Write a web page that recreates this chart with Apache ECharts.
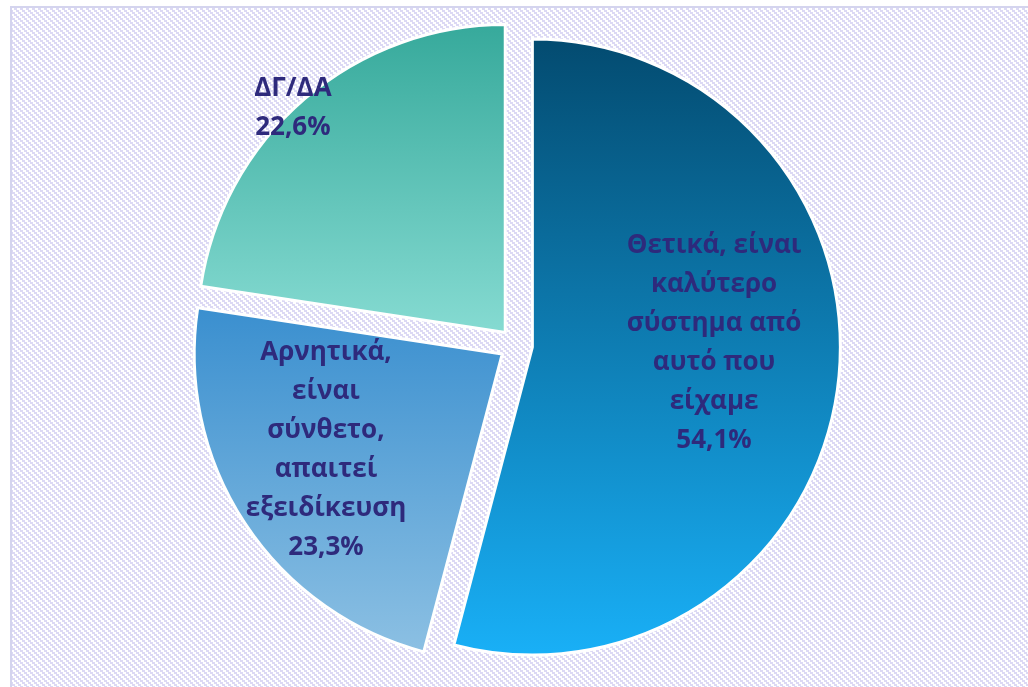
<!DOCTYPE html>
<html>
<head>
<meta charset="utf-8">
<script src="https://cdn.jsdelivr.net/npm/echarts@6/dist/echarts.min.js"></script>
<style>
	html, body { margin: 0; padding: 0; background: #fff; }
	#main { width: 1028px; height: 687px; }
</style>
</head>
<body>
<div id="main"></div>
<script>
// 数据
var categories = ['Θετικά, είναι\nκαλύτερο\nσύστημα από\nαυτό που\nείχαμε', 'Αρνητικά,\nείναι\nσύνθετο,\nαπαιτεί\nεξειδίκευση', 'ΔΓ/ΔΑ'];
var values = [54.1, 23.3, 22.6];
// 每块的渐变色 上 -> 下
var topColors = ['#034b70', '#3a8fcf', '#36a99b'];
var bottomColors = ['#19b0f7', '#8cc0e3', '#86dbd2'];
// 标签微调
var labelDx = [26, -45, -110];
var labelDy = [-24, 10, -105];

// 背景斜线
function stripes() {
	var c = document.createElement('canvas');
	c.width = 6;
	c.height = 6;
	var ctx = c.getContext('2d');
	ctx.fillStyle = '#ffffff';
	ctx.fillRect(0, 0, 6, 6);
	ctx.fillStyle = '#dcd9f4';
	for (var x = 0; x < 6; x++) {
		for (var y = 0; y < 6; y++) {
			if (((x - 2 * (y >> 1)) % 6 + 6) % 6 < 3) ctx.fillRect(x, y, 1, 1);
		}
	}
	return c;
}

var myChart = echarts.init(document.getElementById('main'));

var data = [];
for (var i = 0; i < values.length; i++) {
	data.push({
		name: categories[i],
		value: values[i],
		selected: true,
		itemStyle: {
			color: new echarts.graphic.LinearGradient(0, 0, 0, 1, [
				{ offset: 0, color: topColors[i] },
				{ offset: 1, color: bottomColors[i] }
			])
		}
	});
}

var option = {
	backgroundColor: '#fff',
	animation: false,
	graphic: [{
		type: 'rect',
		z: -10,
		shape: { x: 11, y: 7, width: 1030, height: 700 },
		style: { fill: { image: stripes(), repeat: 'repeat' }, stroke: '#d4d4ee', lineWidth: 2 }
	}],
	series: [{
		type: 'pie',
		center: [516, 345],
		radius: 308,
		startAngle: 90,
		clockwise: true,
		selectedMode: 'multiple',
		selectedOffset: 16.5,
		emphasis: { disabled: true },
		itemStyle: { borderColor: '#fff', borderWidth: 3 },
		label: {
			show: true,
			position: 'inside',
			color: '#2e2a7c',
			fontFamily: 'Open Sans',
			fontWeight: 'bold',
			fontSize: 26,
			lineHeight: 39,
			align: 'center',
			formatter: function(p) {
				return p.name + '\n' + p.value.toFixed(1).replace('.', ',') + '%';
			}
		},
		labelLayout: function(p) {
			return { dx: labelDx[p.dataIndex], dy: labelDy[p.dataIndex] };
		},
		data: data
	}]
};

myChart.setOption(option);
</script>
</body>
</html>
